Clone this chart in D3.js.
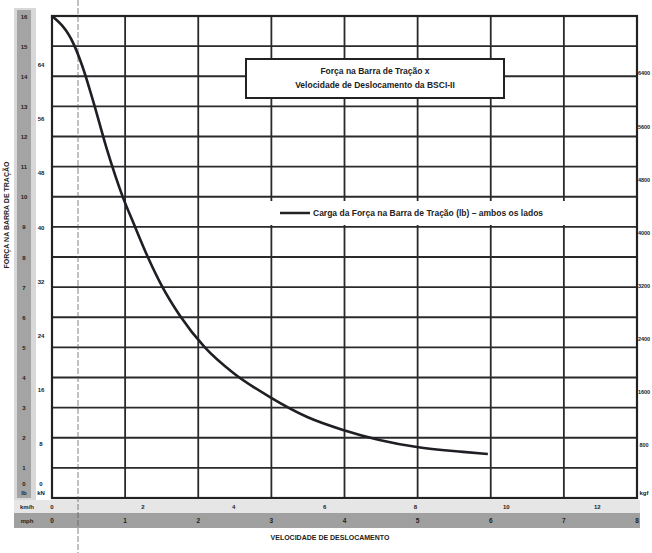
<!DOCTYPE html>
<html><head><meta charset="utf-8">
<script src="https://cdn.jsdelivr.net/npm/d3@7"></script>
<style>
html,body{margin:0;padding:0;background:#fff;}
svg text{font-family:"Liberation Sans Narrow","Liberation Sans",Arial,sans-serif;font-weight:bold;fill:#222;}
</style></head>
<body><svg id="c" width="652" height="553"></svg>
<script>
// ---- data ----
const speedMph = [0, 0.29, 0.42, 0.56, 0.75, 0.97, 1.11, 1.31, 1.50, 1.75, 2.09, 2.48, 2.98, 3.49, 3.98, 4.99, 5.62, 5.96];
const drawbarLbf = [16000, 15100, 14300, 13200, 11580, 9980, 9150, 8000, 7050, 6050, 5000, 4150, 3350, 2690, 2260, 1690, 1530, 1460];
const mphTicks = [0,1,2,3,4,5,6,7,8];
const kmhTicks = [0,2,4,6,8,10,12];
const lbfTicks = [1000,2000,3000,4000,5000,6000,7000,8000,9000,10000,11000,12000,13000,14000,15000,16000];
const knTicks = [8,16,24,32,40,48,56,64];
const kgfTicks = [800,1600,2400,3200,4000,4800,5600,6400];
const titleLines = ["Força na Barra de Tração x", "Velocidade de Deslocamento da BSCI-II"];
const legendText = "Carga da Força na Barra de Tração (lb) – ambos os lados";
const xTitle = "VELOCIDADE DE DESLOCAMENTO";
const yTitle = "FORÇA NA BARRA DE TRAÇÃO";

const svg = d3.select("#c");
const L=52, R=637, T=16, B=498;
const x = d3.scaleLinear().domain([0,8]).range([L,R]);
const xKmh = d3.scaleLinear().domain([0,8*1.609344]).range([L,R]);
const y = d3.scaleLinear().domain([0,16000]).range([B,T]);
const yKn = d3.scaleLinear().domain([0,16000*0.0044482]).range([B,T]);
const yKgf = d3.scaleLinear().domain([0,16000*0.45359]).range([B,T]);

// background bands
svg.append("rect").attr("x",14).attr("y",8).attr("width",22).attr("height",492).attr("fill","#d8d8d8");
svg.append("rect").attr("x",17).attr("y",10).attr("width",14).attr("height",488).attr("fill","#a4a4a4");
svg.append("rect").attr("x",14).attr("y",500).attr("width",626).attr("height",13).attr("fill","#e6e6e6");
svg.append("rect").attr("x",14).attr("y",513).attr("width",626).attr("height",15).attr("fill","#a0a0a0");

// grid
const g = svg.append("g");
g.selectAll("line.h").data(d3.range(0,16001,1000)).join("line")
  .attr("x1",L).attr("x2",R).attr("y1",d=>y(d)).attr("y2",d=>y(d))
  .attr("stroke","#2a2a2a").attr("stroke-width",1.8);
g.selectAll("line.v").data(mphTicks).join("line")
  .attr("x1",d=>x(d)).attr("x2",d=>x(d)).attr("y1",T).attr("y2",B)
  .attr("stroke","#2a2a2a").attr("stroke-width",1.8);
g.append("rect").attr("x",L).attr("y",T).attr("width",R-L).attr("height",B-T)
  .attr("fill","none").attr("stroke","#222").attr("stroke-width",2.2);

// thin vertical cursor line
svg.append("line").attr("x1",78).attr("x2",78).attr("y1",0).attr("y2",553)
  .attr("stroke","#555").attr("stroke-width",1).attr("stroke-dasharray","6,2").attr("opacity",0.7);

// curve
svg.append("path").datum(speedMph.map((s,i)=>[s,drawbarLbf[i]]))
  .attr("d", d3.line().x(d=>x(d[0])).y(d=>y(d[1])).curve(d3.curveMonotoneX))
  .attr("fill","none").attr("stroke","#1e1e24").attr("stroke-width",2.6);

// title box
const tb = svg.append("g");
tb.append("rect").attr("x",246).attr("y",59).attr("width",258).attr("height",39)
  .attr("fill","#fff").attr("stroke","#222").attr("stroke-width",2);
tb.selectAll("text").data(titleLines).join("text")
  .attr("x",375).attr("y",(d,i)=>74+i*14).attr("text-anchor","middle").attr("font-size",8.5).text(d=>d);

// legend box
const lb = svg.append("g");
lb.append("rect").attr("x",270).attr("y",201).attr("width",342).attr("height",24).attr("fill","#fff");
lb.append("line").attr("x1",280).attr("x2",310).attr("y1",213).attr("y2",213).attr("stroke","#222").attr("stroke-width",2.5);
lb.append("text").attr("x",313).attr("y",216).attr("font-size",8.5).text(legendText);

// left axes
svg.selectAll("text.lbf").data(lbfTicks).join("text")
  .attr("x",24).attr("y",d=>y(d)+2.5).attr("text-anchor","middle").attr("font-size",6).text(d=>d/1000);
svg.selectAll("text.kn").data(knTicks).join("text")
  .attr("x",41).attr("y",d=>yKn(d)+2.5).attr("text-anchor","middle").attr("font-size",6).text(d=>d);
svg.append("text").attr("x",24).attr("y",486).attr("text-anchor","middle").attr("font-size",6).text("0");
svg.append("text").attr("x",41).attr("y",486).attr("text-anchor","middle").attr("font-size",6).text("0");
svg.append("text").attr("x",24).attr("y",495).attr("text-anchor","middle").attr("font-size",6).text("lb");
svg.append("text").attr("x",41).attr("y",495).attr("text-anchor","middle").attr("font-size",6).text("kN");

// right axis
svg.selectAll("text.kgf").data(kgfTicks).join("text")
  .attr("x",644).attr("y",d=>yKgf(d)+2.5).attr("text-anchor","middle").attr("font-size",5.5).text(d=>d);
svg.append("text").attr("x",644).attr("y",495).attr("text-anchor","middle").attr("font-size",6).text("kgf");

// bottom axes
svg.selectAll("text.kmh").data(kmhTicks).join("text")
  .attr("x",d=>xKmh(d)).attr("y",509).attr("text-anchor","middle").attr("font-size",6).text(d=>d);
svg.selectAll("text.mph").data(mphTicks).join("text")
  .attr("x",d=>x(d)).attr("y",523).attr("text-anchor","middle").attr("font-size",6.5).text(d=>d);
svg.append("text").attr("x",27).attr("y",509).attr("text-anchor","middle").attr("font-size",6).text("km/h");
svg.append("text").attr("x",27).attr("y",523).attr("text-anchor","middle").attr("font-size",6).text("mph");

// axis titles
svg.append("text").attr("x",330).attr("y",540).attr("text-anchor","middle").attr("font-size",7).text(xTitle);
svg.append("text").attr("transform","translate(9,215) rotate(-90)").attr("text-anchor","middle").attr("font-size",7).text(yTitle);
</script></body></html>
